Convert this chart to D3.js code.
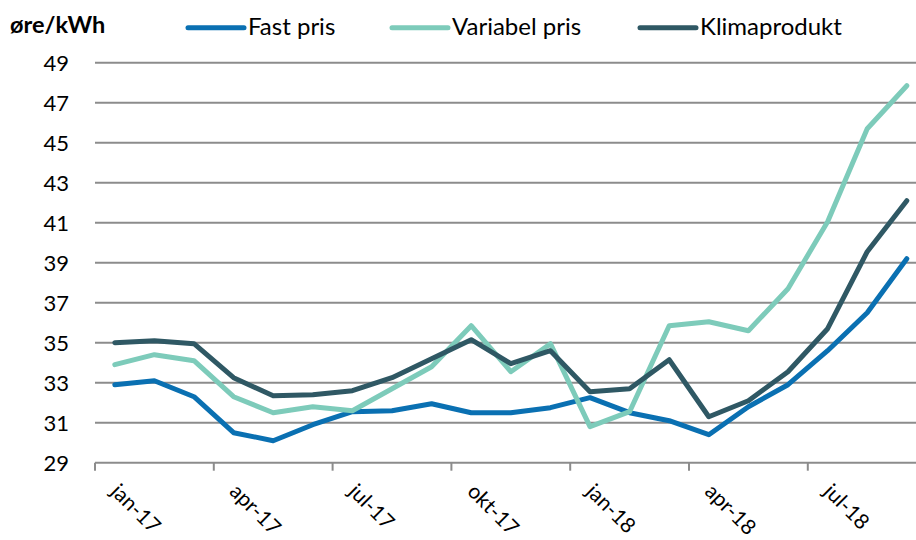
<!DOCTYPE html>
<html>
<head>
<meta charset="utf-8">
<script src="https://cdn.jsdelivr.net/npm/d3@7"></script>
<style>
  body { margin: 0; background: #fff; }
  text { font-family: Lato, "Open Sans", sans-serif; }
</style>
</head>
<body>
<svg id="chart" width="916" height="540"></svg>
<script>
// months jan-17 .. sep-18
const months = ['jan-17','feb-17','mar-17','apr-17','mai-17','jun-17','jul-17','aug-17','sep-17','okt-17','nov-17','des-17',
                'jan-18','feb-18','mar-18','apr-18','mai-18','jun-18','jul-18','aug-18','sep-18'];
const fastPris     = [32.9,33.1,32.3,30.5,30.1,30.9,31.55,31.6,31.95,31.5,31.5,31.75,32.25,31.5,31.1,30.4,31.8,32.9,34.6,36.5,39.2];
const variabelPris = [33.9,34.4,34.1,32.3,31.5,31.8,31.6,32.7,33.8,35.85,33.55,34.95,30.8,31.55,35.85,36.05,35.6,37.7,41.05,45.7,47.85];
const klimaprodukt = [35.0,35.1,34.95,33.25,32.35,32.4,32.6,33.25,34.2,35.15,33.95,34.6,32.55,32.7,34.15,31.3,32.1,33.55,35.7,39.55,42.1];
const tickLabels = ['jan-17','apr-17','jul-17','okt-17','jan-18','apr-18','jul-18'];
const yTicks = [29,31,33,35,37,39,41,43,45,47,49];

const series = [
    {name: 'Fast pris', values: fastPris, color: '#0a70b2'},
    {name: 'Variabel pris', values: variabelPris, color: '#7dcbba'},
    {name: 'Klimaprodukt', values: klimaprodukt, color: '#2f5864'}
];

const svg = d3.select('#chart');
const plotLeft = 95, plotTop = 62.7, plotBottom = 462.7;
const step = 39.6;

// x: band scale, ticks sit between categories
const x = d3.scaleBand()
    .domain(months)
    .range([plotLeft, plotLeft + step * months.length]);

const y = d3.scaleLinear()
    .domain([29, 49])
    .range([plotBottom, plotTop]);

// gridlines
svg.append('g')
    .selectAll('line')
    .data(yTicks.slice(1))
    .join('line')
    .attr('x1', plotLeft)
    .attr('x2', 916)
    .attr('y1', d => y(d))
    .attr('y2', d => y(d))
    .attr('stroke', '#8c8c8c')
    .attr('stroke-width', 2);

// y labels
svg.append('g')
    .selectAll('text')
    .data(yTicks)
    .join('text')
    .attr('x', 69)
    .attr('y', d => y(d))
    .attr('dy', '0.36em')
    .attr('text-anchor', 'end')
    .attr('font-size', 22)
    .attr('fill', '#000')
    .text(d => d);

// x axis line and ticks
svg.append('line')
    .attr('x1', plotLeft).attr('x2', 916)
    .attr('y1', plotBottom).attr('y2', plotBottom)
    .attr('stroke', '#8c8c8c').attr('stroke-width', 2);

const tickPos = d3.range(0, months.length + 1, 3).map(i => plotLeft + step * i);
svg.append('g')
    .selectAll('line')
    .data(tickPos.filter(p => p < 916))
    .join('line')
    .attr('x1', d => d).attr('x2', d => d)
    .attr('y1', plotBottom).attr('y2', plotBottom + 8)
    .attr('stroke', '#8c8c8c').attr('stroke-width', 2);

// x labels, rotated
svg.append('g')
    .selectAll('text')
    .data(tickLabels)
    .join('text')
    .attr('transform', d => `translate(${x(d) + x.bandwidth() / 2 - 5}, ${plotBottom + 30}) rotate(45)`)
    .attr('font-size', 21)
    .attr('fill', '#000')
    .text(d => d);

// lines
const line = d3.line()
    .x((d, i) => x(months[i]) + x.bandwidth() / 2)
    .y(d => y(d));

svg.append('g')
    .selectAll('path')
    .data(series)
    .join('path')
    .attr('fill', 'none')
    .attr('stroke', d => d.color)
    .attr('stroke-width', 5)
    .attr('stroke-linejoin', 'round')
    .attr('stroke-linecap', 'round')
    .attr('d', d => line(d.values));

// unit label
svg.append('text')
    .attr('x', 10)
    .attr('y', 33)
    .attr('font-size', 23.5)
    .attr('font-weight', 'bold')
    .text('øre/kWh');

// legend
const legendX = [188, 392, 640];
const legend = svg.append('g')
    .selectAll('g')
    .data(series)
    .join('g')
    .attr('transform', (d, i) => `translate(${legendX[i]}, 27.7)`);

legend.append('line')
    .attr('x1', 0).attr('x2', 56)
    .attr('stroke', d => d.color)
    .attr('stroke-width', 5)
    .attr('stroke-linecap', 'round');

legend.append('text')
    .attr('x', 60)
    .attr('y', 7.3)
    .attr('font-size', 24)
    .text(d => d.name);
</script>
</body>
</html>
